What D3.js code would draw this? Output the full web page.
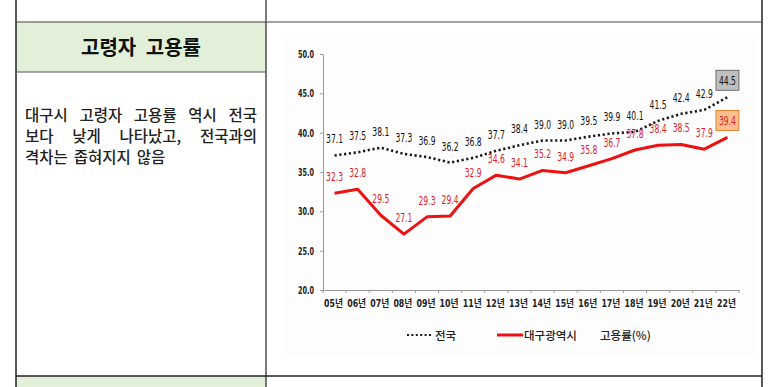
<!DOCTYPE html>
<html>
<head>
<meta charset="utf-8">
<script src="https://cdn.jsdelivr.net/npm/d3@7"></script>
<style>
  body { margin: 0; background: #fff; }
  svg { display: block; }
</style>
</head>
<body>
<script>
var W = 780, H = 387;

var years = ["05년","06년","07년","08년","09년","10년","11년","12년","13년","14년","15년","16년","17년","18년","19년","20년","21년","22년"];
var national = [37.1,37.5,38.1,37.3,36.9,36.2,36.8,37.7,38.4,39.0,39.0,39.5,39.9,40.1,41.5,42.4,42.9,44.5];
var daegu = [32.3,32.8,29.5,27.1,29.3,29.4,32.9,34.6,34.1,35.2,34.9,35.8,36.7,37.8,38.4,38.5,37.9,39.4];
var yTicks = [20,25,30,35,40,45,50];
var legendNames = ["전국","대구광역시","고용률(%)"];
var titleText = "고령자 고용률";
var bodyLines = [
  "대구시 고령자 고용률 역시 전국",
  "보다 낮게 나타났고, 전국과의",
  "격차는 좁혀지지 않음"
];

var numFont = "'Liberation Sans Narrow','DejaVu Sans Condensed','Noto Sans CJK KR',sans-serif";
var krFont = "'Noto Sans CJK KR','Noto Sans',sans-serif";

var svg = d3.select("body").append("svg")
  .attr("width", W).attr("height", H);

// table cells
svg.append("rect").attr("x",16).attr("y",22).attr("width",250).attr("height",50).attr("fill","#e2efd9");
svg.append("rect").attr("x",16).attr("y",376).attr("width",250).attr("height",11).attr("fill","#e2efd9");
// faint chart backdrop
svg.append("rect").attr("x",283).attr("y",38).attr("width",472).attr("height",318).attr("fill","#fdfdfd");

var border = "#222";
svg.append("line").attr("x1",16).attr("x2",16).attr("y1",0).attr("y2",H).attr("stroke",border).attr("stroke-width",1.5);
svg.append("line").attr("x1",266).attr("x2",266).attr("y1",0).attr("y2",H).attr("stroke",border).attr("stroke-width",1.2);
svg.append("line").attr("x1",762).attr("x2",762).attr("y1",0).attr("y2",H).attr("stroke",border).attr("stroke-width",1.5);
svg.append("line").attr("x1",16).attr("x2",762).attr("y1",22).attr("y2",22).attr("stroke","#444").attr("stroke-width",1.2);
svg.append("line").attr("x1",16).attr("x2",266).attr("y1",72).attr("y2",72).attr("stroke","#555").attr("stroke-width",1);
svg.append("line").attr("x1",16).attr("x2",762).attr("y1",376).attr("y2",376).attr("stroke",border).attr("stroke-width",1.5);

// header title
svg.append("text").attr("x",141).attr("y",55)
  .attr("text-anchor","middle")
  .style("font-family",krFont).style("font-size","20px").style("font-weight","bold")
  .style("word-spacing","5px")
  .attr("fill","#111").text(titleText);

// body text, justified for all but last line
var textLeft = 25, textRight = 257;
bodyLines.forEach(function(line, li) {
  var y = 121 + li * 21;
  var words = line.split(" ");
  var g = svg.append("g");
  var nodes = words.map(function(w) {
    return g.append("text").attr("y", y)
      .style("font-family",krFont).style("font-size","15.5px").style("font-weight","500")
      .attr("fill","#222").text(w);
  });
  var widths = nodes.map(function(n) { return n.node().getComputedTextLength(); });
  var total = d3.sum(widths);
  var gap = (li < bodyLines.length - 1) ? (textRight - textLeft - total) / (words.length - 1) : 6;
  var x = textLeft;
  nodes.forEach(function(n, i) {
    n.attr("x", x);
    x += widths[i] + gap;
  });
});

// chart
var x0 = 323, x1 = 739, yTop = 54, yBot = 290;
var x = d3.scaleBand().domain(years).range([x0, x1]);
var y = d3.scaleLinear().domain([20, 50]).range([yBot, yTop]);
var cx = function(i) { return x(years[i]) + x.bandwidth() / 2; };

var yAxis = svg.append("g").attr("transform","translate(" + x0 + ",0)")
  .call(d3.axisLeft(y).tickValues(yTicks).tickFormat(d3.format(".1f")).tickSize(3));
yAxis.select(".domain").attr("stroke","#999");
yAxis.selectAll(".tick line").attr("stroke","#999");
yAxis.selectAll("text").attr("x",-9).attr("fill","#222")
  .attr("textLength", 16).attr("lengthAdjust","spacingAndGlyphs")
  .style("font-family",numFont).style("font-size","10.5px").style("font-weight","bold");

var xAxis = svg.append("g").attr("transform","translate(0," + yBot + ")")
  .call(d3.axisBottom(x).tickSize(0).tickPadding(10));
xAxis.select(".domain").attr("stroke","#999");
xAxis.selectAll("text").attr("fill","#222").attr("dx", -1)
  .attr("textLength", 19).attr("lengthAdjust","spacingAndGlyphs")
  .style("font-family",numFont).style("font-size","10px").style("font-weight","bold");
// tick marks between categories
svg.append("g").selectAll("line")
  .data(d3.range(years.length + 1))
  .enter().append("line")
    .attr("x1", function(d) { return x0 + d * x.step(); })
    .attr("x2", function(d) { return x0 + d * x.step(); })
    .attr("y1", yBot).attr("y2", yBot + 3)
    .attr("stroke","#999");

var line = d3.line()
  .x(function(d, i) { return cx(i); })
  .y(function(d) { return y(d); });

svg.append("path").datum(national)
  .attr("d", line).attr("fill","none")
  .attr("stroke","#1a1a1a").attr("stroke-width",2.6)
  .attr("stroke-dasharray","2.2,2.6");

svg.append("path").datum(daegu)
  .attr("d", line).attr("fill","none")
  .attr("stroke","#ee1111").attr("stroke-width",3)
  .attr("stroke-linejoin","round");

// highlight boxes behind final labels
var last = years.length - 1;
var lastX = cx(last);
svg.append("rect")
  .attr("x", lastX - 11.5).attr("y", y(national[last]) - 27)
  .attr("width", 23).attr("height", 20)
  .attr("fill","#bfbfbf").attr("stroke","#555").attr("stroke-width",0.8);
svg.append("rect")
  .attr("x", lastX - 11.5).attr("y", y(daegu[last]) - 27)
  .attr("width", 23).attr("height", 20)
  .attr("fill","#fbbf8f").attr("stroke","#e46c0a").attr("stroke-width",0.8);

// value labels
svg.append("g").selectAll("text")
  .data(national)
  .enter().append("text")
    .attr("x", function(d, i) { return cx(i); })
    .attr("y", function(d) { return y(d) - 12; })
    .attr("text-anchor","middle")
    .attr("textLength", 17).attr("lengthAdjust","spacingAndGlyphs")
    .attr("fill","#111")
    .style("font-family",numFont).style("font-size","12.5px")
    .text(function(d) { return d.toFixed(1); });

svg.append("g").selectAll("text")
  .data(daegu)
  .enter().append("text")
    .attr("x", function(d, i) { return cx(i); })
    .attr("y", function(d) { return y(d) - 12; })
    .attr("text-anchor","middle")
    .attr("textLength", 17).attr("lengthAdjust","spacingAndGlyphs")
    .attr("fill","#e0202a")
    .style("font-family",numFont).style("font-size","12.5px")
    .text(function(d) { return d.toFixed(1); });

// legend
var ly = 335;
svg.append("line").attr("x1",407).attr("x2",431).attr("y1",ly).attr("y2",ly)
  .attr("stroke","#1a1a1a").attr("stroke-width",2.2).attr("stroke-dasharray","2,2.4");
svg.append("text").attr("x",435).attr("y",ly + 4.5)
  .style("font-family",krFont).style("font-size","11.5px").style("font-weight","500").attr("fill","#222").text(legendNames[0]);
svg.append("line").attr("x1",497).attr("x2",523).attr("y1",ly).attr("y2",ly)
  .attr("stroke","#ee1111").attr("stroke-width",3);
svg.append("text").attr("x",524).attr("y",ly + 4.5)
  .style("font-family",krFont).style("font-size","11.5px").style("font-weight","500").attr("fill","#222").text(legendNames[1]);
svg.append("text").attr("x",600).attr("y",ly + 4.5)
  .style("font-family",krFont).style("font-size","11.5px").style("font-weight","500").attr("fill","#222").text(legendNames[2]);
</script>
</body>
</html>
